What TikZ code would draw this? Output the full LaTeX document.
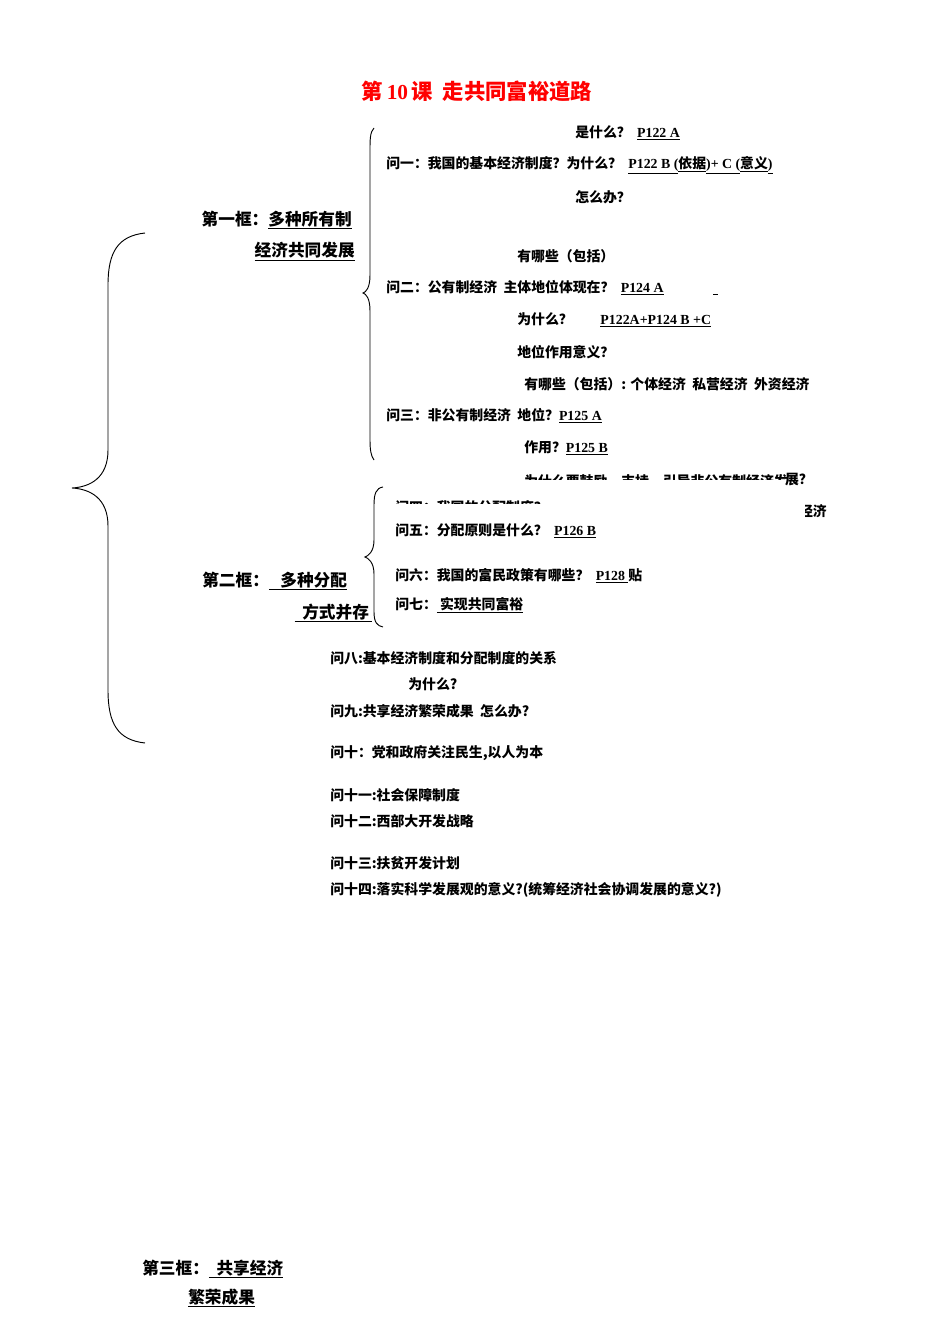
\documentclass[tikz,border=0pt]{standalone}
\usepackage{fontspec}
\setmainfont{Liberation Serif}
\newfontfamily\cjk{Noto Sans CJK SC}
\newcommand{\pp}[1]{\underline{\rmfamily\bfseries #1}}
\begin{document}
\begin{tikzpicture}[x=0.75pt,y=-0.75pt,
  t/.style={anchor=west,inner sep=0pt,font=\cjk\bfseries\fontsize{10.4}{12}\selectfont},
  side/.style={inner sep=0pt,font=\cjk\bfseries\fontsize{12.5}{14}\selectfont},
  br/.style={line width=0.7pt}]
\useasboundingbox (0,0) rectangle (950,1344);
\node[inner sep=0pt,text=red,font=\cjk\bfseries\fontsize{16}{18}\selectfont] (title) at (477,91) {第\,{\rmfamily 10}\,课\ \ 走共同富裕道路};
\node[t] (a1) at (575,133) {是什么？\ \ \pp{P122 A}};
\node[t] (q1) at (386,165) {问一：我国的基本经济制度？为什么？\ \ \pp{P122 B (}\underline{依据}\pp{)+ C (}\underline{意义}\pp{)}};
\node[t] (a2) at (575,197) {怎么办？};
\node[t] (b1) at (517,256) {有哪些（包括）};
\node[t] (q2) at (386,288) {问二：公有制经济\ \ 主体地位体现在？\ \ \pp{P124 A}};
\node[t] (b2) at (517,320) {为什么？\qquad\pp{P122A+P124 B +C}};
\node[t] (b3) at (517,352) {地位作用意义？};
\node[t] (c1) at (524,384) {有哪些（包括）: 个体经济\ \ 私营经济\ \ 外资经济};
\node[t] (q3) at (386,416) {问三：非公有制经济\ \ 地位？\pp{P125 A}};
\node[t] (c2) at (524,448) {作用？\pp{P125 B}};
\begin{scope}
\clip (380,460) rectangle (788,479);
\node[t] (c3) at (524,481) {为什么要鼓励、支持、引导非公有制经济发展？};
\end{scope}
\node[t,anchor=east] (c3e) at (813,480) {展？};
\begin{scope}
\clip (380,490) rectangle (800,503);
\node[t] (q4) at (395,507) {问四：我国的分配制度？};
\end{scope}
\begin{scope}
\clip (805,495) rectangle (840,530);
\node[t,anchor=east] (q4e) at (827,511) {经济};
\end{scope}
\node[t] (q5) at (395,531) {问五：分配原则是什么？\ \ \pp{P126 B}};
\node[t] (q6) at (395,576) {问六：我国的富民政策有哪些？\ \ \pp{P128\ }贴};
\node[t] (q7) at (395,605) {问七：\underline{\ 实现共同富裕}};
\node[t] (q8) at (330,658) {问八:基本经济制度和分配制度的关系};
\node[t] (q8b) at (408,684) {为什么?};
\node[t] (q9) at (330,711) {问九:共享经济繁荣成果\ \ 怎么办?};
\node[t] (q10) at (330,753) {问十：党和政府关注民生,以人为本};
\node[t] (q11) at (330,795) {问十一:社会保障制度};
\node[t] (q12) at (330,821) {问十二:西部大开发战略};
\node[t] (q13) at (330,863) {问十三:扶贫开发计划};
\node[t] (q14) at (330,890) {问十四:落实科学发展观的意义?(统筹经济社会协调发展的意义?)};
\node[side,anchor=east] (k1a) at (352,220) {第一框：\underline{多种所有制}};
\node[side,anchor=east] (k1b) at (355,252) {\underline{经济共同发展}};
\node[side,anchor=west] (k2a) at (202,581) {第二框：\underline{\ \ \ 多种分配}};
\node[side,anchor=east] (k2b) at (372,613) {\underline{\ \ 方式并存\,}};
\node[side,anchor=west] (k3a) at (142,1269) {第三框：\underline{\ \ 共享经济}};
\node[side,anchor=west] (k3b) at (188,1298) {\underline{繁荣成果}};
\draw[br] (145,233) .. controls (118,236) and (108,252) .. (108,285) -- (108,450) .. controls (108,478) and (90,487) .. (72,488)
  .. controls (90,489) and (108,498) .. (108,526) -- (108,690) .. controls (108,724) and (118,740) .. (145,743);
\draw[br] (374,128) .. controls (370,132) and (370,140) .. (370,150) -- (370,275) .. controls (370,288) and (366,292) .. (363,293)
  .. controls (366,294) and (370,298) .. (370,311) -- (370,440) .. controls (370,450) and (371,456) .. (374,460);
\draw[br] (383,487) .. controls (376,488) and (374,494) .. (374,505) -- (374,540) .. controls (374,552) and (368,556) .. (365,557)
  .. controls (368,558) and (374,562) .. (374,574) -- (374,612) .. controls (374,622) and (377,626) .. (383,627);
\draw[line width=0.5pt] (713,294) -- (718,294);
\end{tikzpicture}
\end{document}
